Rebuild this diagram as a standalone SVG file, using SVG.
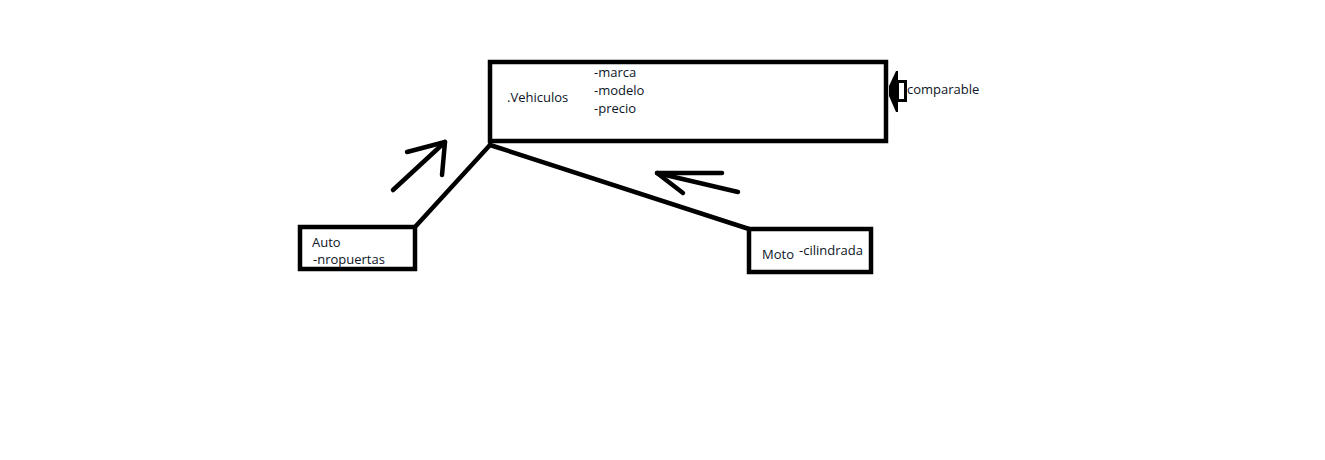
<svg xmlns="http://www.w3.org/2000/svg" width="1325" height="460" viewBox="0 0 1325 460">
<style>
.box{fill:none;stroke:#000;stroke-width:4.5}
.ln{fill:none;stroke:#000;stroke-width:4.5;stroke-linecap:round;stroke-linejoin:round}
.t{font-family:"Open Sans","Noto Sans",sans-serif;font-size:13px;fill:#0d1526}
</style>
<rect width="1325" height="460" fill="#fff"/>
<g id="connectors">
<line class="ln" x1="490" y1="145" x2="415" y2="227"/>
<line class="ln" x1="490" y1="145" x2="749" y2="229"/>
<g id="arrow-auto">
<line class="ln" x1="393" y1="190" x2="445" y2="142"/>
<polyline class="ln" points="407,152 445,142 442,175"/>
</g>
<g id="arrow-moto">
<line class="ln" x1="657" y1="173" x2="738" y2="192"/>
<polyline class="ln" points="722,173 657,173 683,193"/>
</g>
</g>
<g id="vehiculos">
<rect class="box" x="490" y="62" width="396" height="79"/>
<text class="t" x="507" y="102">.Vehiculos</text>
<text class="t" x="594" y="77">-marca</text>
<text class="t" x="594" y="95">-modelo</text>
<text class="t" x="594" y="113">-precio</text>
</g>
<g id="comparable">
<path d="M896,71 L889,86 L889,96 L896,112 L898,112 L898,71 Z" fill="#000"/>
<rect x="897.5" y="81.5" width="8" height="19" fill="none" stroke="#000" stroke-width="3"/>
<text class="t" x="907" y="94">comparable</text>
</g>
<g id="auto">
<rect class="box" x="300" y="227" width="115" height="42"/>
<text class="t" x="312" y="247">Auto</text>
<text class="t" x="313" y="264">-nropuertas</text>
</g>
<g id="moto">
<rect class="box" x="749" y="229" width="122" height="43"/>
<text class="t" x="762" y="259">Moto</text>
<text class="t" x="799" y="255">-cilindrada</text>
</g>
</svg>
